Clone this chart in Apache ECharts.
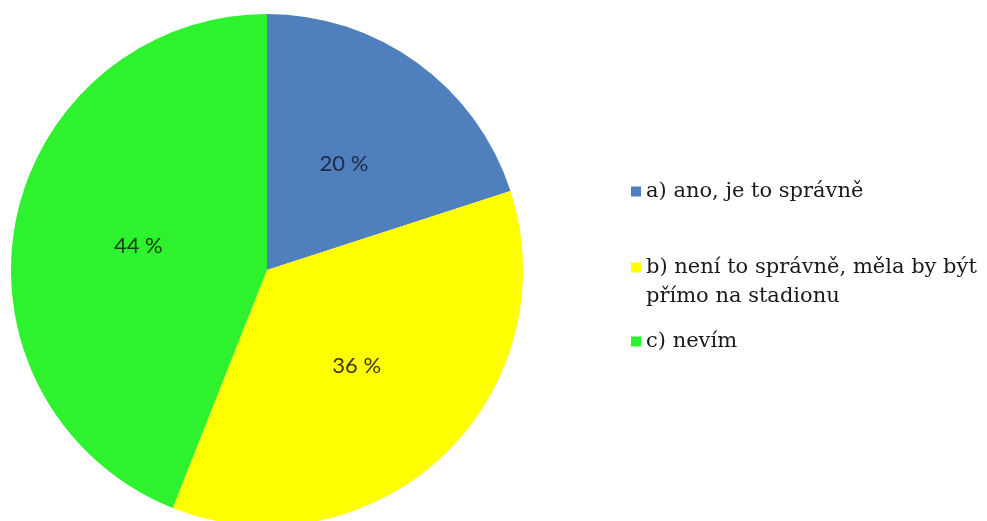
<!DOCTYPE html>
<html>
<head>
<meta charset="utf-8">
<script src="https://cdn.jsdelivr.net/npm/echarts@6/dist/echarts.min.js"></script>
<style>
html,body{margin:0;padding:0;background:#fff;}
#chart{width:987px;height:521px;}
</style>
</head>
<body>
<div id="chart"></div>
<script>
const categories = ['a) ano, je to správně', 'b) není to správně, měla by být\npřímo na stadionu', 'c) nevím'];
const values = [20, 36, 44];
const colors = ['#4f80bd', '#ffff00', '#2ef22e'];
const labelColors = ['#1c2a48', '#3a3a10', '#124012'];

const chart = echarts.init(document.getElementById('chart'), null, {renderer: 'canvas'});
const legendText = {fontFamily: 'DejaVu Serif', fontSize: 21, color: '#1a1a1a', lineHeight: 29};
const legendTops = [177, 253, 327];
const legends = categories.map((name, i) => ({
  left: 631,
  top: legendTops[i],
  padding: 0,
  orient: 'vertical',
  itemWidth: 10,
  itemHeight: i === 1 ? 39 : 10,
  icon: i === 1 ? 'path://M0,0h10v10h-10z M0,39' : 'rect',
  data: [name],
  textStyle: legendText
}));

chart.setOption({
  backgroundColor: '#ffffff',
  animation: false,
  color: colors,
  legend: legends,
  series: [{
    type: 'pie',
    center: [267, 270],
    radius: 256,
    startAngle: 90,
    clockwise: true,
    itemStyle: {borderWidth: 0},
    emphasis: {scale: false},
    label: {
      position: 'inside',
      formatter: '{c} %',
      fontFamily: 'Lato',
      fontSize: 22
    },
    labelLine: {show: false},
    data: categories.map((name, i) => ({
      name: name,
      value: values[i],
      label: {color: labelColors[i]}
    }))
  }]
});
</script>
</body>
</html>
